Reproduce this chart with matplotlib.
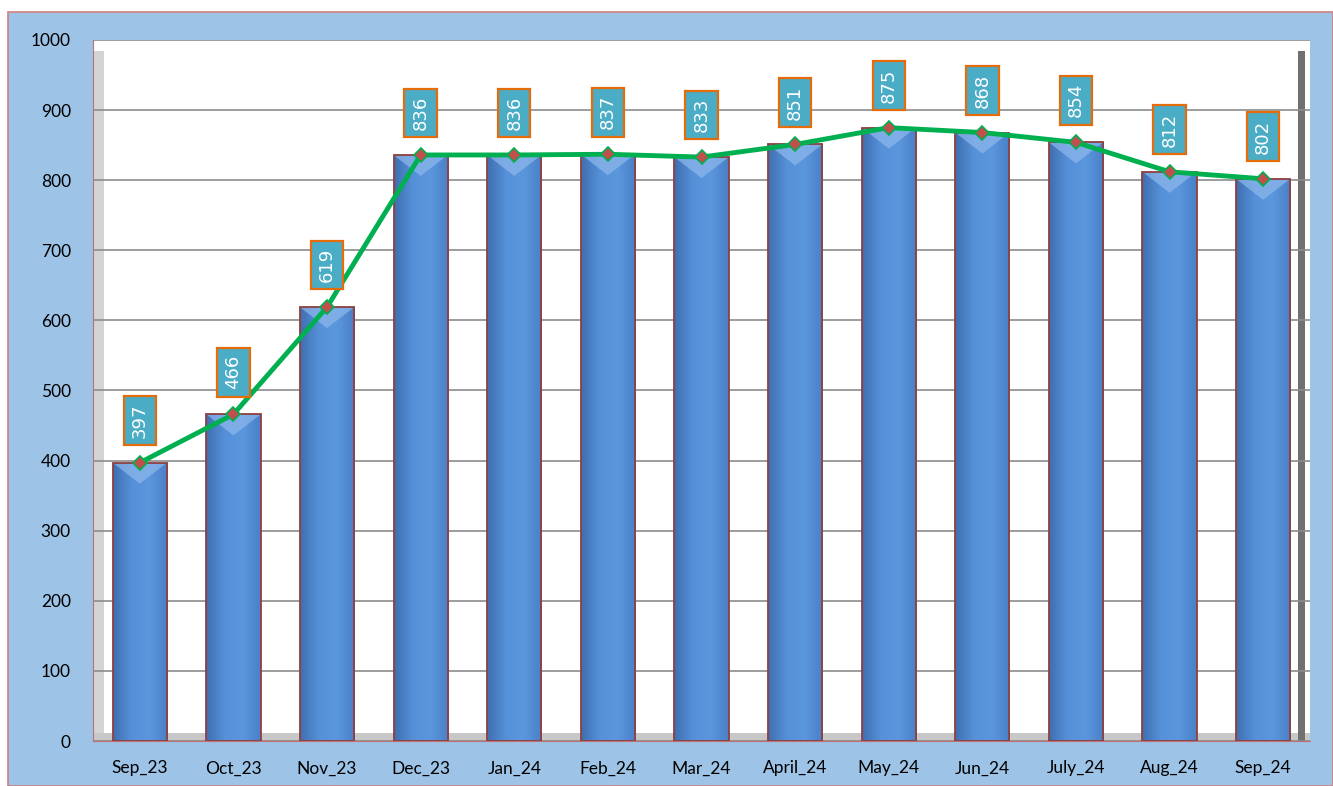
import matplotlib.pyplot as plt
import numpy as np
from matplotlib.patches import Rectangle
from matplotlib.colors import LinearSegmentedColormap

plt.rcParams['font.family'] = ['Lato', 'DejaVu Sans']

months = ['Sep_23', 'Oct_23', 'Nov_23', 'Dec_23', 'Jan_24', 'Feb_24', 'Mar_24',
          'April_24', 'May_24', 'Jun_24', 'July_24', 'Aug_24', 'Sep_24']
values = [397, 466, 619, 836, 836, 837, 833, 851, 875, 868, 854, 812, 802]
yticks = [0, 100, 200, 300, 400, 500, 600, 700, 800, 900, 1000]

fig = plt.figure(figsize=(13.33, 7.86), dpi=100, facecolor='white')

# light blue frame round the chart
frame = Rectangle((8 / 1333, 0), 1 - 8 / 1333, 1 - 12 / 786, transform=fig.transFigure,
                  facecolor='#9DC3E6', edgecolor='#D08080', lw=1.2, zorder=-5)
fig.patches.append(frame)

ax = fig.add_axes([93 / 1333, 1 - 741 / 786, (1310 - 93) / 1333, (741 - 40) / 786])
ax.set_facecolor('white')

# grey back/side walls
ax.add_patch(Rectangle((0, 0), 0.009, 0.985, transform=ax.transAxes,
                       color='#D4D4D4', zorder=0.5, lw=0))
ax.add_patch(Rectangle((0, 0), 1, 0.012, transform=ax.transAxes,
                       color='#C8C8C8', zorder=0.5, lw=0))
ax.add_patch(Rectangle((0.99, 0), 0.006, 0.985, transform=ax.transAxes,
                       color='#707070', zorder=0.5, lw=0))

x = np.arange(len(months))
bars = ax.bar(x, values, width=0.58, color='#4F86CF', linewidth=0, zorder=3)

# horizontal shading inside each bar
grad = np.linspace(0, 1, 64).reshape(1, -1)
cmap = LinearSegmentedColormap.from_list('bar', ['#3F6FB0', '#5590D8', '#5B97DD', '#4A80C8'])
for b in bars:
    x0, w, h = b.get_x(), b.get_width(), b.get_height()
    im = ax.imshow(grad, extent=(x0, x0 + w, 0, h), aspect='auto', cmap=cmap, zorder=3.5)
    im.set_clip_path(b)
    # lighter top chevron
    ax.fill([x0, x0 + w, x0 + w / 2], [h, h, h - 30], color='#8FB8EC', alpha=0.7,
            zorder=3.6, lw=0)
ax.bar(x, values, width=0.58, fill=False, edgecolor='#8E3F3F', linewidth=1.3, zorder=3.8)

ax.plot(x, values, color='#00B050', lw=3.5, zorder=5)
ax.plot(x, values, ls='none', marker='D', ms=7, mfc='#C0504D', mec='#00B050',
        mew=1.2, zorder=6)

for xi, v in zip(x, values):
    ax.text(xi, v + 60, str(v), rotation=90, ha='center', va='center', color='white',
            fontsize=13, family=['DejaVu Sans'], zorder=7,
            bbox=dict(boxstyle='square,pad=0.4', fc='#4BACC6', ec='#E46C0A', lw=1.6))

ax.set_xlim(-0.5, len(months) - 0.5)
ax.set_ylim(0, 1000)
ax.set_yticks(yticks)
ax.set_xticks(x)
ax.set_xticklabels(months)
ax.tick_params(axis='both', length=0, labelsize=12.5)
ax.tick_params(axis='y', pad=16)
ax.tick_params(axis='x', pad=14)
ax.grid(axis='y', color='#8C8C8C', lw=1.2, zorder=1)
for s in ['top', 'right']:
    ax.spines[s].set_visible(False)
ax.spines['left'].set_color('#C07070')
ax.spines['bottom'].set_color('#C07070')

fig.savefig('out.png', dpi=100, facecolor=fig.get_facecolor())
